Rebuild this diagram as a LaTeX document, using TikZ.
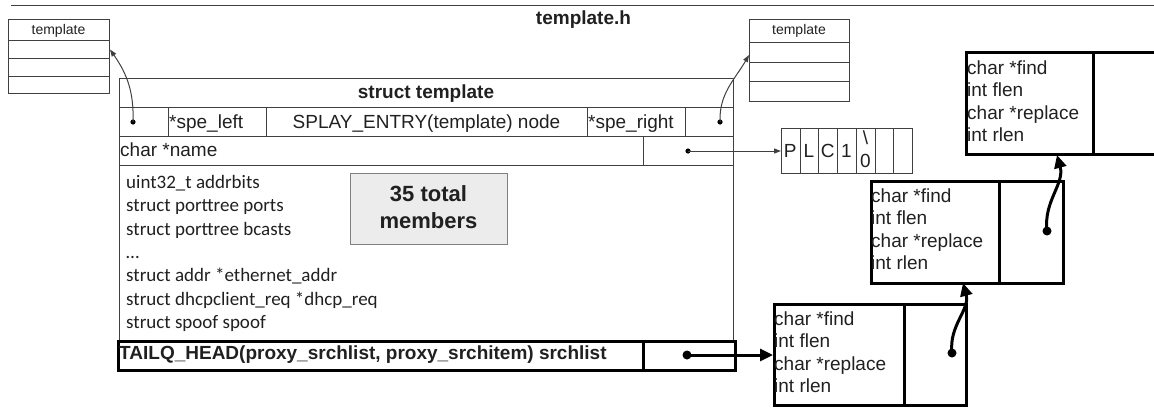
\documentclass[tikz,border=0pt]{standalone}
\usepackage{fontspec}
\setmainfont{Liberation Sans}
\newfontfamily\calibrifont{Carlito}
\usetikzlibrary{arrows.meta}
\definecolor{lc}{HTML}{404040}
\definecolor{tc}{HTML}{202020}
\begin{document}
\begin{tikzpicture}[x=1pt,y=-1pt,
  box/.style={draw=lc,line width=1pt,inner sep=0pt,anchor=north west},
  heavybox/.style={draw=black,line width=3pt,inner sep=0pt,anchor=north west},
  txt/.style={inner sep=0pt,anchor=base west,text=tc,font=\fontsize{19}{23}\selectfont},
  ctxt/.style={inner sep=0pt,anchor=base,text=tc,font=\fontsize{19}{23}\selectfont},
  btxt/.style={inner sep=0pt,anchor=base west,text=tc,font=\fontsize{19}{23}\selectfont\bfseries},
  smalltxt/.style={inner sep=0pt,anchor=base,text=tc,font=\fontsize{14}{16}\selectfont},
  caltxt/.style={inner sep=0pt,anchor=base west,text=tc,font=\calibrifont\fontsize{19}{23}\selectfont},
  thinarrow/.style={draw=lc,line width=1pt,-{Triangle[length=7pt,width=5pt]}},
  heavyarrow/.style={draw=black,line width=3pt,-{Triangle[length=13pt,width=12pt]}},
  dot/.style={fill=black}]
\useasboundingbox (0,0) rectangle (1154,410);

% top rule and title
\draw[lc,line width=1pt] (11,5) -- (1154,5);
\node[inner sep=0pt,anchor=base,text=tc,font=\fontsize{19}{23}\selectfont\bfseries] (title) at (583.5,24.5) {template.h};

% left template box
\node[box,minimum width=101pt,minimum height=21pt] (ltA) at (8,19) {};
\node[box,minimum width=101pt,minimum height=18pt] (ltB) at (8,40) {};
\node[box,minimum width=101pt,minimum height=18pt] (ltC) at (8,58) {};
\node[box,minimum width=101pt,minimum height=17pt] (ltD) at (8,76) {};
\node[smalltxt] (ltT) at (58.5,34) {template};

% right template box
\node[box,minimum width=100pt,minimum height=23pt] (rtA) at (749,19) {};
\node[box,minimum width=100pt,minimum height=20pt] (rtB) at (749,42) {};
\node[box,minimum width=100pt,minimum height=19pt] (rtC) at (749,62) {};
\node[box,minimum width=100pt,minimum height=20pt] (rtD) at (749,81) {};
\node[smalltxt] (rtT) at (799,34) {template};

% struct template
\node[box,minimum width=614pt,minimum height=262pt] (main) at (119,78) {};
\node[box,minimum width=614pt,minimum height=29pt] (strow) at (119,78) {};
\node[inner sep=0pt,anchor=base,text=tc,font=\fontsize{19}{23}\selectfont\bfseries] (sttitle) at (426,98) {struct template};

\node[box,minimum width=49pt,minimum height=29pt] (c1) at (119,107) {};
\node[box,minimum width=98pt,minimum height=29pt] (c2) at (168,107) {};
\node[box,minimum width=321pt,minimum height=29pt] (c3) at (266,107) {};
\node[box,minimum width=98pt,minimum height=29pt] (c4) at (587,107) {};
\node[box,minimum width=48pt,minimum height=29pt] (c5) at (685,107) {};
\node[txt] (t2) at (169,128) {*spe\_left};
\node[ctxt] (t3) at (426.5,128) {SPLAY\_ENTRY(template) node};
\node[txt] (t4) at (588,128) {*spe\_right};

\node[box,minimum width=524pt,minimum height=29pt] (nm) at (119,136) {};
\node[box,minimum width=90pt,minimum height=29pt] (np) at (643,136) {};
\node[txt] (tnm) at (120,156) {char *name};

\foreach \t [count=\i] in {uint32\_t addrbits,struct porttree ports,struct porttree bcasts,\char"2026,struct addr *ethernet\_addr,struct dhcpclient\_req *dhcp\_req,struct spoof spoof}
  \node[caltxt] (b\i) at (126,{188.5+23.35*(\i-1)}) {\t};

\node[draw=gray,fill=gray!15,line width=1pt,inner sep=0pt,anchor=north west,minimum width=157pt,minimum height=71pt] (tot) at (350,173) {};
\node[inner sep=0pt,anchor=base,text=tc,font=\fontsize{22}{26}\selectfont\bfseries] (tot1) at (428.5,201.5) {35 total};
\node[inner sep=0pt,anchor=base,text=tc,font=\fontsize{22}{26}\selectfont\bfseries] (tot2) at (428.5,228) {members};

\node[heavybox,minimum width=617pt,minimum height=29pt] (tq) at (117,340) {};
\node[heavybox,minimum width=92pt,minimum height=29pt] (tp) at (642,340) {};
\node[btxt] (ttq) at (119,359.5) {TAILQ\_HEAD(proxy\_srchlist, proxy\_srchitem) srchlist};

% PLC1 string
\foreach \i in {0,...,6}
  \node[box,minimum width=18.7pt,minimum height=45pt] (pc\i) at ({781+18.7*\i},128) {};
\node[ctxt] (pP) at (790.3,157) {P};
\node[ctxt] (pL) at (809,157) {L};
\node[ctxt] (pC) at (827.7,157) {C};
\node[ctxt] (p1) at (846.4,157) {1};
\node[ctxt] (pbs) at (865.5,144) {\textbackslash};
\node[ctxt] (p0) at (865.5,167.5) {0};

% list items
\node[heavybox,minimum width=192pt,minimum height=101pt] (lb1) at (773,303) {};
\node[heavybox,minimum width=62pt,minimum height=101pt] (lb1p) at (903,303) {};
\node[heavybox,minimum width=192pt,minimum height=102pt] (lb2) at (870,180) {};
\node[heavybox,minimum width=64pt,minimum height=102pt] (lb2p) at (998,180) {};
\draw[black,line width=3pt] (1156,52) -| (966,154) -- (1156,154);
\draw[black,line width=3pt] (1093,52) -- (1093,154);
\foreach \bx/\x/\y in {1/774/325,2/871/202,3/967/74}
  \foreach \t [count=\i] in {char *find,int flen,char *replace,int rlen}
    \node[txt] (l\bx\i) at (\x,{\y+22.6*(\i-1)}) {\t};

% connectors
\coordinate (dL) at (133,122);
\coordinate (dR) at (720,122);
\coordinate (dN) at (688,151);
\coordinate (dT) at (687,355);
\coordinate (d1) at (952,353);
\coordinate (d2) at (1047,231);
\coordinate (tip1) at (963,283);
\coordinate (tip2) at (1057,155);
\coordinate (tipR) at (749,55);

\fill[dot] (dL) circle (2.6pt);
\fill[dot] (dR) circle (2.6pt);
\fill[dot] (dN) circle (2.6pt);
\fill[dot] (dT) circle (4.5pt);
\fill[dot] (d1) circle (4.5pt);
\fill[dot] (d2) circle (4.5pt);

\draw[thinarrow] (dL) to[out=88,in=-55] (ltB.east);
\draw[thinarrow] (dR) to[out=92,in=-120] (tipR);
\draw[thinarrow] (dN) -- (pc0.west);
\draw[heavyarrow] (dT) -- (lb1.west);
\draw[heavyarrow] (d1) to[out=97,in=-75] (tip1);
\draw[heavyarrow] (d2) to[out=97,in=-75] (tip2);
\end{tikzpicture}
\end{document}
